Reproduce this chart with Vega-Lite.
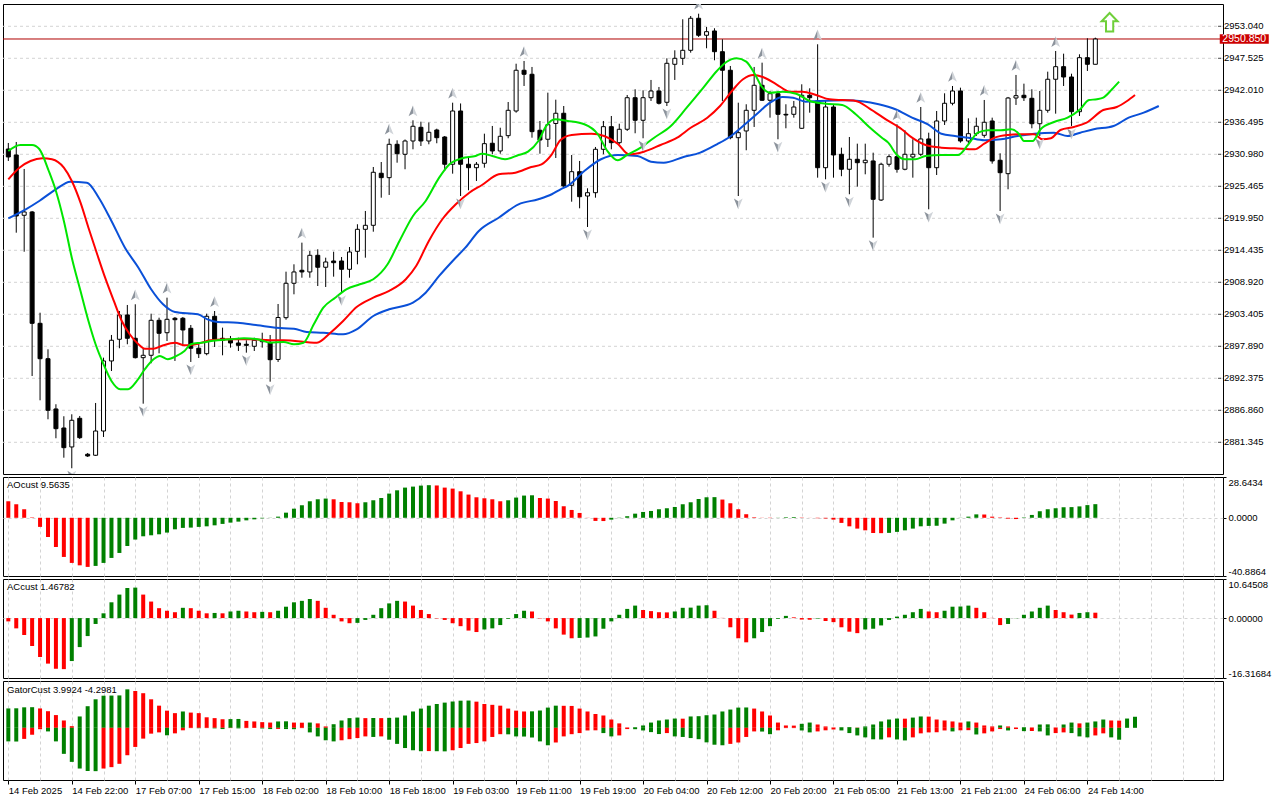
{
  "$schema": "https://vega.github.io/schema/vega-lite/v6.json",
  "background": "#ffffff",
  "padding": {"left": 2, "top": 3, "right": 0, "bottom": 0},
  "spacing": 3,
  "bounds": "flush",
  "resolve": {"scale": {"x": "independent", "y": "independent"}},
  "config": {
    "view": {"stroke": "#000000", "strokeWidth": 1},
    "font": "Liberation Sans",
    "axis": {"labelFont": "Liberation Sans", "labelFontSize": 9.5, "labelColor": "#000000", "tickColor": "#000000", "tickWidth": 1},
    "title": {"font": "Liberation Sans", "fontSize": 9.5, "fontWeight": "normal", "color": "#000000"}
  },
  "datasets": {
    "candles": [
      {"i":0,"o":2931.89,"h":2932.93,"l":2929.83,"c":2930.52},
      {"i":1,"o":2930.86,"h":2933.10,"l":2917.47,"c":2920.35},
      {"i":2,"o":2920.47,"h":2928.45,"l":2914.19,"c":2921.04},
      {"i":3,"o":2921.04,"h":2921.21,"l":2892.77,"c":2901.85},
      {"i":4,"o":2901.85,"h":2903.68,"l":2888.58,"c":2895.75},
      {"i":5,"o":2895.75,"h":2897.37,"l":2885.31,"c":2886.86},
      {"i":6,"o":2887.09,"h":2887.90,"l":2882.04,"c":2883.69},
      {"i":7,"o":2883.81,"h":2885.83,"l":2878.69,"c":2880.42},
      {"i":8,"o":2880.54,"h":2886.17,"l":2876.87,"c":2885.14},
      {"i":9,"o":2885.48,"h":2885.88,"l":2881.92,"c":2882.14},
      {"i":10,"o":2879.28,"h":2879.50,"l":2878.81,"c":2878.99},
      {"i":11,"o":2879.11,"h":2888.12,"l":2878.99,"c":2883.29},
      {"i":12,"o":2883.29,"h":2895.93,"l":2882.26,"c":2895.36},
      {"i":13,"o":2895.36,"h":2899.84,"l":2893.63,"c":2898.93},
      {"i":14,"o":2899.10,"h":2903.97,"l":2897.55,"c":2903.29},
      {"i":15,"o":2903.29,"h":2905.01,"l":2898.24,"c":2899.27},
      {"i":16,"o":2899.27,"h":2905.13,"l":2895.79,"c":2895.93},
      {"i":17,"o":2895.93,"h":2897.55,"l":2888.00,"c":2896.34},
      {"i":18,"o":2896.34,"h":2903.51,"l":2894.96,"c":2902.37},
      {"i":19,"o":2902.37,"h":2902.82,"l":2896.68,"c":2900.13},
      {"i":20,"o":2900.23,"h":2906.27,"l":2898.80,"c":2902.54},
      {"i":21,"o":2902.72,"h":2902.94,"l":2895.36,"c":2902.47},
      {"i":22,"o":2902.72,"h":2902.94,"l":2898.24,"c":2900.70},
      {"i":23,"o":2900.99,"h":2901.56,"l":2895.19,"c":2897.55},
      {"i":24,"o":2897.55,"h":2898.24,"l":2895.87,"c":2896.62},
      {"i":25,"o":2896.62,"h":2903.51,"l":2896.34,"c":2903.06},
      {"i":26,"o":2903.06,"h":2903.97,"l":2897.77,"c":2899.10},
      {"i":27,"o":2899.27,"h":2901.10,"l":2896.34,"c":2898.93},
      {"i":28,"o":2898.93,"h":2899.67,"l":2897.65,"c":2898.46},
      {"i":29,"o":2898.46,"h":2899.37,"l":2897.08,"c":2898.06},
      {"i":30,"o":2898.24,"h":2898.93,"l":2896.79,"c":2898.06},
      {"i":31,"o":2897.89,"h":2899.37,"l":2897.08,"c":2898.93},
      {"i":32,"o":2898.68,"h":2900.23,"l":2897.65,"c":2898.93},
      {"i":33,"o":2898.58,"h":2899.84,"l":2891.79,"c":2895.58},
      {"i":34,"o":2895.62,"h":2905.18,"l":2895.19,"c":2902.85},
      {"i":35,"o":2902.82,"h":2910.75,"l":2902.47,"c":2908.75},
      {"i":36,"o":2908.75,"h":2912.02,"l":2906.85,"c":2910.70},
      {"i":37,"o":2910.99,"h":2915.75,"l":2909.71,"c":2910.70},
      {"i":38,"o":2910.70,"h":2914.31,"l":2909.71,"c":2913.57},
      {"i":39,"o":2913.57,"h":2914.61,"l":2908.28,"c":2911.51},
      {"i":40,"o":2911.51,"h":2913.16,"l":2908.11,"c":2912.42},
      {"i":41,"o":2912.59,"h":2914.19,"l":2909.89,"c":2912.30},
      {"i":42,"o":2912.59,"h":2913.28,"l":2907.13,"c":2911.16},
      {"i":43,"o":2911.16,"h":2915.00,"l":2909.71,"c":2914.14},
      {"i":44,"o":2914.26,"h":2918.92,"l":2912.02,"c":2918.05},
      {"i":45,"o":2918.05,"h":2921.21,"l":2913.16,"c":2918.74},
      {"i":46,"o":2918.74,"h":2928.79,"l":2917.64,"c":2927.88},
      {"i":47,"o":2927.71,"h":2929.65,"l":2923.50,"c":2926.95},
      {"i":48,"o":2926.95,"h":2933.67,"l":2923.97,"c":2932.70},
      {"i":49,"o":2932.70,"h":2933.39,"l":2929.53,"c":2931.08},
      {"i":50,"o":2930.98,"h":2933.53,"l":2928.40,"c":2933.27},
      {"i":51,"o":2933.27,"h":2936.84,"l":2931.84,"c":2935.81},
      {"i":52,"o":2935.63,"h":2936.60,"l":2932.41,"c":2933.27},
      {"i":53,"o":2933.27,"h":2936.46,"l":2932.70,"c":2934.77},
      {"i":54,"o":2935.17,"h":2935.39,"l":2932.88,"c":2933.84},
      {"i":55,"o":2933.96,"h":2934.13,"l":2928.10,"c":2929.26},
      {"i":56,"o":2929.26,"h":2939.87,"l":2927.64,"c":2938.44},
      {"i":57,"o":2938.44,"h":2939.74,"l":2923.79,"c":2929.26},
      {"i":58,"o":2929.26,"h":2930.39,"l":2924.78,"c":2928.67},
      {"i":59,"o":2928.67,"h":2929.65,"l":2926.38,"c":2929.26},
      {"i":60,"o":2929.43,"h":2934.53,"l":2928.67,"c":2932.81},
      {"i":61,"o":2932.88,"h":2935.86,"l":2930.98,"c":2931.55},
      {"i":62,"o":2931.55,"h":2935.56,"l":2931.08,"c":2934.08},
      {"i":63,"o":2934.19,"h":2939.99,"l":2933.74,"c":2938.56},
      {"i":64,"o":2938.44,"h":2946.59,"l":2938.15,"c":2945.46},
      {"i":65,"o":2945.46,"h":2947.06,"l":2942.75,"c":2944.77},
      {"i":66,"o":2944.77,"h":2946.03,"l":2933.84,"c":2934.88},
      {"i":67,"o":2935.12,"h":2936.72,"l":2931.08,"c":2933.44},
      {"i":68,"o":2933.57,"h":2941.60,"l":2932.24,"c":2936.08},
      {"i":69,"o":2936.29,"h":2940.39,"l":2930.34,"c":2938.05},
      {"i":70,"o":2938.05,"h":2939.30,"l":2925.34,"c":2925.52},
      {"i":71,"o":2925.64,"h":2930.86,"l":2922.81,"c":2927.98},
      {"i":72,"o":2927.98,"h":2929.83,"l":2921.67,"c":2923.67},
      {"i":73,"o":2923.79,"h":2925.12,"l":2918.45,"c":2924.36},
      {"i":74,"o":2924.36,"h":2932.24,"l":2923.50,"c":2931.84},
      {"i":75,"o":2931.84,"h":2936.72,"l":2930.98,"c":2935.74},
      {"i":76,"o":2935.74,"h":2937.58,"l":2931.84,"c":2932.98},
      {"i":77,"o":2932.98,"h":2936.25,"l":2932.70,"c":2935.29},
      {"i":78,"o":2935.29,"h":2941.20,"l":2935.00,"c":2940.73},
      {"i":79,"o":2940.73,"h":2942.18,"l":2934.60,"c":2936.84},
      {"i":80,"o":2936.84,"h":2942.01,"l":2933.74,"c":2940.73},
      {"i":81,"o":2940.73,"h":2943.79,"l":2940.17,"c":2941.89},
      {"i":82,"o":2941.89,"h":2942.58,"l":2939.56,"c":2939.77},
      {"i":83,"o":2939.94,"h":2947.52,"l":2939.30,"c":2946.66},
      {"i":84,"o":2946.49,"h":2948.90,"l":2943.79,"c":2947.52},
      {"i":85,"o":2947.52,"h":2954.25,"l":2946.37,"c":2948.90},
      {"i":86,"o":2948.90,"h":2954.81,"l":2948.49,"c":2954.42},
      {"i":87,"o":2954.42,"h":2955.21,"l":2951.20,"c":2951.49},
      {"i":88,"o":2951.49,"h":2952.92,"l":2949.25,"c":2952.11},
      {"i":89,"o":2952.23,"h":2952.70,"l":2947.18,"c":2948.66},
      {"i":90,"o":2948.66,"h":2950.80,"l":2940.17,"c":2945.46},
      {"i":91,"o":2945.46,"h":2946.20,"l":2933.57,"c":2933.84},
      {"i":92,"o":2933.84,"h":2939.87,"l":2923.79,"c":2934.70},
      {"i":93,"o":2935.00,"h":2939.60,"l":2931.67,"c":2938.56},
      {"i":94,"o":2938.56,"h":2946.03,"l":2935.69,"c":2942.87},
      {"i":95,"o":2942.87,"h":2946.77,"l":2940.17,"c":2940.29},
      {"i":96,"o":2940.29,"h":2941.89,"l":2937.29,"c":2941.42},
      {"i":97,"o":2941.42,"h":2941.89,"l":2933.57,"c":2937.87},
      {"i":98,"o":2937.87,"h":2939.60,"l":2935.46,"c":2937.75},
      {"i":99,"o":2937.87,"h":2940.17,"l":2937.29,"c":2939.13},
      {"i":100,"o":2935.46,"h":2943.04,"l":2935.34,"c":2941.15},
      {"i":101,"o":2941.15,"h":2942.35,"l":2938.15,"c":2940.73},
      {"i":102,"o":2940.17,"h":2949.94,"l":2926.95,"c":2928.67},
      {"i":103,"o":2928.67,"h":2940.17,"l":2926.67,"c":2939.13},
      {"i":104,"o":2939.13,"h":2939.60,"l":2926.95,"c":2930.86},
      {"i":105,"o":2930.98,"h":2932.12,"l":2927.20,"c":2928.40},
      {"i":106,"o":2928.40,"h":2933.96,"l":2924.09,"c":2930.12},
      {"i":107,"o":2930.12,"h":2932.81,"l":2925.40,"c":2929.53},
      {"i":108,"o":2929.53,"h":2932.81,"l":2927.53,"c":2929.95},
      {"i":109,"o":2929.83,"h":2931.26,"l":2916.61,"c":2923.22},
      {"i":110,"o":2923.10,"h":2929.53,"l":2922.93,"c":2929.26},
      {"i":111,"o":2929.26,"h":2930.98,"l":2928.84,"c":2930.57},
      {"i":112,"o":2930.57,"h":2936.15,"l":2927.81,"c":2928.40},
      {"i":113,"o":2928.40,"h":2935.12,"l":2928.22,"c":2930.98},
      {"i":114,"o":2930.51,"h":2933.57,"l":2926.95,"c":2930.98},
      {"i":115,"o":2930.98,"h":2939.13,"l":2930.69,"c":2933.62},
      {"i":116,"o":2933.62,"h":2934.70,"l":2921.50,"c":2928.67},
      {"i":117,"o":2928.67,"h":2938.44,"l":2927.41,"c":2936.72},
      {"i":118,"o":2936.72,"h":2941.49,"l":2936.03,"c":2939.77},
      {"i":119,"o":2939.77,"h":2942.75,"l":2939.42,"c":2941.89},
      {"i":120,"o":2941.89,"h":2942.46,"l":2932.98,"c":2933.27},
      {"i":121,"o":2933.27,"h":2937.18,"l":2932.81,"c":2934.53},
      {"i":122,"o":2934.53,"h":2937.29,"l":2934.13,"c":2935.81},
      {"i":123,"o":2934.25,"h":2940.34,"l":2933.84,"c":2936.50},
      {"i":124,"o":2936.72,"h":2937.29,"l":2929.36,"c":2929.83},
      {"i":125,"o":2929.95,"h":2931.15,"l":2921.21,"c":2927.81},
      {"i":126,"o":2927.64,"h":2940.86,"l":2924.95,"c":2940.68},
      {"i":127,"o":2940.68,"h":2944.65,"l":2939.48,"c":2941.08},
      {"i":128,"o":2941.15,"h":2943.15,"l":2940.17,"c":2940.73},
      {"i":129,"o":2940.63,"h":2942.18,"l":2935.46,"c":2936.25},
      {"i":130,"o":2936.25,"h":2941.89,"l":2934.13,"c":2938.56},
      {"i":131,"o":2938.56,"h":2945.22,"l":2938.15,"c":2943.91},
      {"i":132,"o":2943.91,"h":2948.78,"l":2937.98,"c":2946.08},
      {"i":133,"o":2946.08,"h":2948.32,"l":2942.75,"c":2944.30},
      {"i":134,"o":2944.30,"h":2944.87,"l":2935.86,"c":2938.32},
      {"i":135,"o":2938.32,"h":2948.21,"l":2937.58,"c":2947.63},
      {"i":136,"o":2947.63,"h":2950.97,"l":2945.34,"c":2946.49},
      {"i":137,"o":2946.49,"h":2951.08,"l":2946.49,"c":2950.85}
    ],
    "lips": [
      {"i":0,"v":2931.55},{"i":1.5,"v":2932.58},{"i":3,"v":2932.58},{"i":3.9,"v":2931.89},{"i":5.1,"v":2928.10},{"i":6,"v":2924.66},{"i":7,"v":2919.49},{"i":8,"v":2913.16},{"i":9.1,"v":2907.42},{"i":10.1,"v":2902.25},{"i":11,"v":2898.24},{"i":12,"v":2894.79},{"i":13,"v":2891.91},{"i":14.1,"v":2890.48},{"i":15.1,"v":2890.48},{"i":16.2,"v":2891.91},{"i":17.2,"v":2893.93},{"i":18.3,"v":2895.65},{"i":19.1,"v":2896.22},{"i":20.1,"v":2895.65},{"i":21.2,"v":2896.22},{"i":22.2,"v":2897.08},{"i":23,"v":2898.24},{"i":24.3,"v":2898.51},{"i":26.4,"v":2898.93},{"i":28,"v":2899.10},{"i":29.7,"v":2899.27},{"i":31.4,"v":2899.10},{"i":33,"v":2898.51},{"i":34.7,"v":2898.63},{"i":36,"v":2898.24},{"i":37.2,"v":2898.51},{"i":38.5,"v":2901.68},{"i":39.7,"v":2904.54},{"i":41.2,"v":2906.27},{"i":42.6,"v":2907.71},{"i":44.3,"v":2908.58},{"i":46,"v":2909.44},{"i":47.8,"v":2912.02},{"i":49.3,"v":2916.04},{"i":51,"v":2920.35},{"i":52.6,"v":2922.93},{"i":54.3,"v":2926.95},{"i":55.6,"v":2929.26},{"i":57.2,"v":2930.29},{"i":58.9,"v":2930.69},{"i":59.7,"v":2931.08},{"i":61,"v":2930.69},{"i":62.6,"v":2930.12},{"i":64.3,"v":2930.86},{"i":65.5,"v":2931.43},{"i":66.8,"v":2933.27},{"i":67.8,"v":2935.86},{"i":68.9,"v":2937.01},{"i":70.5,"v":2936.72},{"i":72.6,"v":2936.15},{"i":74.3,"v":2934.43},{"i":75.5,"v":2931.55},{"i":76.8,"v":2929.95},{"i":78,"v":2930.86},{"i":79.7,"v":2932.12},{"i":81.4,"v":2933.84},{"i":83.5,"v":2935.86},{"i":85.5,"v":2939.01},{"i":87.6,"v":2942.46},{"i":89.3,"v":2945.34},{"i":90.5,"v":2946.89},{"i":91.8,"v":2947.52},{"i":93,"v":2946.94},{"i":94.1,"v":2944.77},{"i":94.9,"v":2942.75},{"i":96,"v":2941.60},{"i":97.6,"v":2941.77},{"i":99.3,"v":2941.42},{"i":101,"v":2940.17},{"i":103,"v":2939.70},{"i":105.1,"v":2939.48},{"i":106.8,"v":2937.87},{"i":108.5,"v":2935.69},{"i":110.1,"v":2933.84},{"i":110.9,"v":2932.98},{"i":112,"v":2930.86},{"i":113,"v":2930.12},{"i":114.3,"v":2930.12},{"i":115.6,"v":2930.69},{"i":117.6,"v":2930.86},{"i":119.7,"v":2930.86},{"i":121,"v":2932.70},{"i":122.2,"v":2934.70},{"i":123.5,"v":2935.12},{"i":125.1,"v":2935.12},{"i":126.4,"v":2935.29},{"i":127.4,"v":2934.43},{"i":128,"v":2933.27},{"i":129.1,"v":2933.27},{"i":130.1,"v":2935.29},{"i":131.8,"v":2936.55},{"i":133.5,"v":2937.29},{"i":135.1,"v":2938.74},{"i":136.2,"v":2940.34},{"i":137.2,"v":2940.46},{"i":138,"v":2940.73},{"i":139.1,"v":2942.18},{"i":140,"v":2943.49}
    ],
    "teeth": [
      {"i":0,"v":2926.67},{"i":1.4,"v":2928.67},{"i":2.8,"v":2929.83},{"i":4.3,"v":2930.29},{"i":5.5,"v":2930.12},{"i":7,"v":2928.67},{"i":8,"v":2926.38},{"i":9.1,"v":2922.64},{"i":10.1,"v":2918.33},{"i":11.2,"v":2913.75},{"i":12.2,"v":2909.71},{"i":13.3,"v":2905.70},{"i":14.3,"v":2902.25},{"i":15.3,"v":2899.96},{"i":16.4,"v":2898.24},{"i":17.2,"v":2897.48},{"i":18.3,"v":2897.48},{"i":19.3,"v":2897.94},{"i":21,"v":2898.51},{"i":22.2,"v":2898.06},{"i":23.9,"v":2898.34},{"i":25.5,"v":2898.93},{"i":28,"v":2899.10},{"i":30.5,"v":2899.10},{"i":33,"v":2898.93},{"i":34.7,"v":2898.93},{"i":38.9,"v":2898.51},{"i":40.6,"v":2900.23},{"i":42.2,"v":2902.25},{"i":43.9,"v":2904.66},{"i":46,"v":2906.27},{"i":48,"v":2907.42},{"i":50.1,"v":2909.44},{"i":51.4,"v":2911.73},{"i":53,"v":2916.04},{"i":54.7,"v":2919.78},{"i":56.4,"v":2922.36},{"i":58.1,"v":2924.36},{"i":59.7,"v":2925.69},{"i":61.8,"v":2927.53},{"i":63.9,"v":2927.81},{"i":65.9,"v":2928.79},{"i":67.2,"v":2929.26},{"i":68.5,"v":2930.98},{"i":69.6,"v":2933.44},{"i":71,"v":2934.31},{"i":73.5,"v":2934.53},{"i":75.1,"v":2934.13},{"i":76.8,"v":2932.81},{"i":78.2,"v":2930.98},{"i":80.1,"v":2931.43},{"i":82.2,"v":2932.58},{"i":84.3,"v":2933.84},{"i":86,"v":2935.56},{"i":88.1,"v":2937.29},{"i":89.7,"v":2939.30},{"i":91.2,"v":2941.89},{"i":92.6,"v":2943.91},{"i":93.9,"v":2944.65},{"i":95.1,"v":2944.30},{"i":96.8,"v":2943.04},{"i":98.5,"v":2941.77},{"i":100.1,"v":2941.77},{"i":101.8,"v":2941.20},{"i":103.5,"v":2940.46},{"i":106.8,"v":2940.17},{"i":108.5,"v":2938.91},{"i":110.6,"v":2937.01},{"i":112.6,"v":2935.29},{"i":113.9,"v":2933.84},{"i":115.6,"v":2932.58},{"i":117.6,"v":2932.12},{"i":119.3,"v":2932.01},{"i":121.8,"v":2931.84},{"i":123,"v":2932.81},{"i":124.3,"v":2933.84},{"i":126,"v":2934.31},{"i":127.6,"v":2934.43},{"i":129.3,"v":2934.43},{"i":130.3,"v":2933.57},{"i":131.4,"v":2933.74},{"i":132.6,"v":2935.17},{"i":134.3,"v":2935.69},{"i":135.9,"v":2936.43},{"i":138,"v":2938.61},{"i":139.7,"v":2939.13},{"i":141,"v":2940.17},{"i":142,"v":2941.20}
    ],
    "jaw": [
      {"i":0,"v":2919.95},{"i":2.2,"v":2921.50},{"i":3.9,"v":2922.93},{"i":6,"v":2924.95},{"i":7.8,"v":2926.26},{"i":9.9,"v":2926.09},{"i":11.4,"v":2923.50},{"i":13,"v":2919.49},{"i":14.7,"v":2914.88},{"i":16.4,"v":2911.44},{"i":18,"v":2907.71},{"i":19.5,"v":2905.13},{"i":21,"v":2903.80},{"i":23.9,"v":2903.40},{"i":25.1,"v":2902.54},{"i":26.4,"v":2902.08},{"i":28.9,"v":2901.96},{"i":31.4,"v":2901.51},{"i":34.7,"v":2900.99},{"i":36,"v":2900.92},{"i":37.6,"v":2900.36},{"i":39.7,"v":2900.23},{"i":42.2,"v":2899.96},{"i":43.9,"v":2900.82},{"i":46,"v":2903.11},{"i":48,"v":2904.27},{"i":51,"v":2905.41},{"i":52.6,"v":2907.13},{"i":54.3,"v":2910.01},{"i":56,"v":2912.59},{"i":57.6,"v":2914.88},{"i":59.3,"v":2917.76},{"i":61.8,"v":2920.05},{"i":64.3,"v":2922.36},{"i":66.8,"v":2923.23},{"i":68.5,"v":2924.09},{"i":69.6,"v":2924.95},{"i":70.5,"v":2925.52},{"i":72.6,"v":2928.10},{"i":74.7,"v":2930.12},{"i":76.8,"v":2930.86},{"i":79.3,"v":2930.69},{"i":81,"v":2929.71},{"i":82.6,"v":2929.53},{"i":85.1,"v":2930.51},{"i":87.2,"v":2931.26},{"i":89.3,"v":2932.70},{"i":90.9,"v":2933.96},{"i":92.6,"v":2935.86},{"i":94.3,"v":2937.87},{"i":96,"v":2939.87},{"i":97.6,"v":2940.86},{"i":98.9,"v":2940.73},{"i":100.5,"v":2940.05},{"i":102.2,"v":2940.17},{"i":105.5,"v":2940.29},{"i":109.7,"v":2939.60},{"i":111.8,"v":2938.74},{"i":113.9,"v":2937.29},{"i":115.9,"v":2936.15},{"i":117.6,"v":2934.53},{"i":119.3,"v":2934.13},{"i":121,"v":2933.84},{"i":123,"v":2933.39},{"i":125.1,"v":2933.57},{"i":127.2,"v":2934.13},{"i":129.3,"v":2934.53},{"i":131.8,"v":2934.70},{"i":133.5,"v":2934.13},{"i":135.1,"v":2934.70},{"i":136.8,"v":2935.29},{"i":139.3,"v":2935.86},{"i":141.2,"v":2937.29},{"i":143.1,"v":2938.15},{"i":145,"v":2939.30}
    ],
    "fractals": [
      {"i":16,"p":2905.13,"d":"u"},{"i":20,"p":2906.27,"d":"u"},{"i":26,"p":2903.97,"d":"u"},{"i":37,"p":2915.75,"d":"u"},{"i":48,"p":2933.67,"d":"u"},{"i":51,"p":2936.84,"d":"u"},{"i":56,"p":2939.87,"d":"u"},{"i":65,"p":2947.06,"d":"u"},{"i":87,"p":2955.21,"d":"u"},{"i":95,"p":2946.77,"d":"u"},{"i":102,"p":2949.94,"d":"u"},{"i":112,"p":2936.15,"d":"u"},{"i":115,"p":2939.13,"d":"u"},{"i":119,"p":2942.75,"d":"u"},{"i":123,"p":2940.34,"d":"u"},{"i":127,"p":2944.65,"d":"u"},{"i":132,"p":2948.78,"d":"u"},
      {"i":8,"p":2876.87,"d":"d"},{"i":17,"p":2888.00,"d":"d"},{"i":23,"p":2895.19,"d":"d"},{"i":30,"p":2896.79,"d":"d"},{"i":33,"p":2891.79,"d":"d"},{"i":42,"p":2907.13,"d":"d"},{"i":57,"p":2923.79,"d":"d"},{"i":73,"p":2918.45,"d":"d"},{"i":80,"p":2933.74,"d":"d"},{"i":83,"p":2939.30,"d":"d"},{"i":92,"p":2923.79,"d":"d"},{"i":97,"p":2933.57,"d":"d"},{"i":103,"p":2926.67,"d":"d"},{"i":106,"p":2924.09,"d":"d"},{"i":109,"p":2916.61,"d":"d"},{"i":116,"p":2921.50,"d":"d"},{"i":125,"p":2921.21,"d":"d"},{"i":130,"p":2934.13,"d":"d"},{"i":134,"p":2935.86,"d":"d"}
    ],
    "signal": [{"i":138.8,"p":2953.69}],
    "last": [{"p":2950.85}],
    "ticks": [{"p":2881.345},{"p":2886.86},{"p":2892.375},{"p":2897.89},{"p":2903.405},{"p":2908.92},{"p":2914.435},{"p":2919.95},{"p":2925.465},{"p":2930.98},{"p":2936.495},{"p":2942.01},{"p":2947.525},{"p":2953.04}],
    "ao": [
      {"i":0,"v":11.6,"c":"r"},{"i":1,"v":9.5,"c":"r"},{"i":2,"v":6.0,"c":"r"},{"i":3,"v":0.3,"c":"r"},{"i":4,"v":-6.4,"c":"r"},{"i":5,"v":-13.5,"c":"r"},{"i":6,"v":-20.5,"c":"r"},{"i":7,"v":-27.5,"c":"r"},{"i":8,"v":-31.7,"c":"r"},{"i":9,"v":-33.4,"c":"r"},
      {"i":10,"v":-34.5,"c":"r"},{"i":11,"v":-33.8,"c":"g"},{"i":12,"v":-31.7,"c":"g"},{"i":13,"v":-28.2,"c":"g"},{"i":14,"v":-24.7,"c":"g"},{"i":15,"v":-19.8,"c":"g"},{"i":16,"v":-15.3,"c":"g"},{"i":17,"v":-13.0,"c":"g"},{"i":18,"v":-12.3,"c":"g"},{"i":19,"v":-11.6,"c":"g"},
      {"i":20,"v":-10.4,"c":"g"},{"i":21,"v":-8.1,"c":"g"},{"i":22,"v":-7.1,"c":"g"},{"i":23,"v":-6.9,"c":"g"},{"i":24,"v":-6.4,"c":"g"},{"i":25,"v":-6.0,"c":"g"},{"i":26,"v":-5.3,"c":"g"},{"i":27,"v":-4.3,"c":"g"},{"i":28,"v":-3.4,"c":"g"},{"i":29,"v":-2.7,"c":"g"},
      {"i":30,"v":-1.8,"c":"g"},{"i":31,"v":-1.1,"c":"g"},{"i":32,"v":-0.4,"c":"g"},{"i":33,"v":-0.1,"c":"g"},{"i":34,"v":0.8,"c":"g"},{"i":35,"v":3.6,"c":"g"},{"i":36,"v":6.4,"c":"g"},{"i":37,"v":8.8,"c":"g"},{"i":38,"v":11.6,"c":"g"},{"i":39,"v":13.0,"c":"g"},
      {"i":40,"v":13.5,"c":"g"},{"i":41,"v":13.0,"c":"r"},{"i":42,"v":11.1,"c":"r"},{"i":43,"v":10.9,"c":"r"},{"i":44,"v":10.2,"c":"r"},{"i":45,"v":10.9,"c":"g"},{"i":46,"v":12.3,"c":"g"},{"i":47,"v":13.9,"c":"g"},{"i":48,"v":17.0,"c":"g"},{"i":49,"v":19.3,"c":"g"},
      {"i":50,"v":21.2,"c":"g"},{"i":51,"v":21.9,"c":"g"},{"i":52,"v":22.6,"c":"g"},{"i":53,"v":22.9,"c":"g"},{"i":54,"v":22.7,"c":"r"},{"i":55,"v":21.2,"c":"r"},{"i":56,"v":20.5,"c":"r"},{"i":57,"v":18.6,"c":"r"},{"i":58,"v":16.3,"c":"r"},{"i":59,"v":14.4,"c":"r"},
      {"i":60,"v":13.7,"c":"r"},{"i":61,"v":13.0,"c":"r"},{"i":62,"v":11.6,"c":"r"},{"i":63,"v":12.3,"c":"g"},{"i":64,"v":14.2,"c":"g"},{"i":65,"v":15.6,"c":"g"},{"i":66,"v":15.8,"c":"g"},{"i":67,"v":13.9,"c":"r"},{"i":68,"v":13.5,"c":"r"},{"i":69,"v":11.8,"c":"r"},
      {"i":70,"v":8.1,"c":"r"},{"i":71,"v":5.5,"c":"r"},{"i":72,"v":3.4,"c":"r"},{"i":73,"v":0.1,"c":"r"},{"i":74,"v":-2.2,"c":"r"},{"i":75,"v":-2.3,"c":"r"},{"i":76,"v":-1.3,"c":"g"},{"i":77,"v":-0.2,"c":"g"},{"i":78,"v":1.1,"c":"g"},{"i":79,"v":2.9,"c":"g"},
      {"i":80,"v":4.1,"c":"g"},{"i":81,"v":4.8,"c":"g"},{"i":82,"v":6.0,"c":"g"},{"i":83,"v":6.7,"c":"g"},{"i":84,"v":7.6,"c":"g"},{"i":85,"v":9.5,"c":"g"},{"i":86,"v":10.9,"c":"g"},{"i":87,"v":13.2,"c":"g"},{"i":88,"v":14.4,"c":"g"},{"i":89,"v":14.5,"c":"g"},
      {"i":90,"v":12.8,"c":"r"},{"i":91,"v":10.2,"c":"r"},{"i":92,"v":6.0,"c":"r"},{"i":93,"v":2.5,"c":"r"},{"i":94,"v":0.4,"c":"r"},{"i":95,"v":0.1,"c":"r"},{"i":96,"v":-0.2,"c":"r"},{"i":97,"v":0.1,"c":"g"},{"i":98,"v":0.4,"c":"g"},{"i":99,"v":0.5,"c":"g"},
      {"i":100,"v":0.2,"c":"r"},{"i":101,"v":-0.05,"c":"r"},{"i":102,"v":-0.3,"c":"r"},{"i":103,"v":-0.5,"c":"r"},{"i":104,"v":-1.3,"c":"r"},{"i":105,"v":-3.6,"c":"r"},{"i":106,"v":-6.0,"c":"r"},{"i":107,"v":-7.6,"c":"r"},{"i":108,"v":-8.8,"c":"r"},{"i":109,"v":-10.7,"c":"r"},
      {"i":110,"v":-10.8,"c":"r"},{"i":111,"v":-10.6,"c":"g"},{"i":112,"v":-9.9,"c":"g"},{"i":113,"v":-8.8,"c":"g"},{"i":114,"v":-7.6,"c":"g"},{"i":115,"v":-6.0,"c":"g"},{"i":116,"v":-5.7,"c":"g"},{"i":117,"v":-5.6,"c":"g"},{"i":118,"v":-4.1,"c":"g"},{"i":119,"v":-1.8,"c":"g"},
      {"i":120,"v":-0.1,"c":"g"},{"i":121,"v":0.8,"c":"g"},{"i":122,"v":2.4,"c":"g"},{"i":123,"v":2.3,"c":"r"},{"i":124,"v":0.8,"c":"r"},{"i":125,"v":0.3,"c":"r"},{"i":126,"v":-0.6,"c":"r"},{"i":127,"v":-0.9,"c":"r"},{"i":128,"v":0.3,"c":"g"},{"i":129,"v":2.0,"c":"g"},
      {"i":130,"v":4.6,"c":"g"},{"i":131,"v":6.0,"c":"g"},{"i":132,"v":6.7,"c":"g"},{"i":133,"v":7.4,"c":"g"},{"i":134,"v":7.5,"c":"g"},{"i":135,"v":8.0,"c":"g"},{"i":136,"v":8.9,"c":"g"},{"i":137,"v":9.5635,"c":"g"}
    ],
    "ac": [
      {"i":0,"v":-0.9,"c":"r"},{"i":1,"v":-2.8,"c":"r"},{"i":2,"v":-4.6,"c":"r"},{"i":3,"v":-7.6,"c":"r"},{"i":4,"v":-10.6,"c":"r"},{"i":5,"v":-12.4,"c":"r"},{"i":6,"v":-13.8,"c":"r"},{"i":7,"v":-13.9,"c":"r"},{"i":8,"v":-11.7,"c":"g"},{"i":9,"v":-7.9,"c":"g"},
      {"i":10,"v":-4.9,"c":"g"},{"i":11,"v":-1.6,"c":"g"},{"i":12,"v":1.3,"c":"g"},{"i":13,"v":4.3,"c":"g"},{"i":14,"v":6.4,"c":"g"},{"i":15,"v":8.2,"c":"g"},{"i":16,"v":8.3,"c":"g"},{"i":17,"v":6.4,"c":"r"},{"i":18,"v":4.5,"c":"r"},{"i":19,"v":2.7,"c":"r"},
      {"i":20,"v":2.0,"c":"r"},{"i":21,"v":1.6,"c":"r"},{"i":22,"v":2.8,"c":"g"},{"i":23,"v":2.7,"c":"r"},{"i":24,"v":2.0,"c":"r"},{"i":25,"v":1.3,"c":"r"},{"i":26,"v":1.4,"c":"g"},{"i":27,"v":1.3,"c":"r"},{"i":28,"v":1.8,"c":"g"},{"i":29,"v":2.0,"c":"g"},
      {"i":30,"v":1.8,"c":"r"},{"i":31,"v":1.6,"c":"r"},{"i":32,"v":1.7,"c":"g"},{"i":33,"v":1.6,"c":"r"},{"i":34,"v":2.0,"c":"g"},{"i":35,"v":3.1,"c":"g"},{"i":36,"v":4.3,"c":"g"},{"i":37,"v":4.7,"c":"g"},{"i":38,"v":5.2,"c":"g"},{"i":39,"v":4.7,"c":"r"},
      {"i":40,"v":2.8,"c":"r"},{"i":41,"v":0.9,"c":"r"},{"i":42,"v":-0.9,"c":"r"},{"i":43,"v":-1.4,"c":"r"},{"i":44,"v":-1.3,"c":"g"},{"i":45,"v":-0.5,"c":"g"},{"i":46,"v":0.9,"c":"g"},{"i":47,"v":2.7,"c":"g"},{"i":48,"v":4.0,"c":"g"},{"i":49,"v":4.7,"c":"g"},
      {"i":50,"v":4.5,"c":"r"},{"i":51,"v":3.4,"c":"r"},{"i":52,"v":2.2,"c":"r"},{"i":53,"v":1.1,"c":"r"},{"i":54,"v":-0.1,"c":"r"},{"i":55,"v":-0.5,"c":"r"},{"i":56,"v":-1.4,"c":"r"},{"i":57,"v":-2.2,"c":"r"},{"i":58,"v":-3.4,"c":"r"},{"i":59,"v":-3.8,"c":"r"},
      {"i":60,"v":-3.1,"c":"g"},{"i":61,"v":-2.8,"c":"g"},{"i":62,"v":-1.9,"c":"g"},{"i":63,"v":-0.2,"c":"g"},{"i":64,"v":1.1,"c":"g"},{"i":65,"v":2.0,"c":"g"},{"i":66,"v":1.8,"c":"r"},{"i":67,"v":-0.1,"c":"r"},{"i":68,"v":-0.9,"c":"r"},{"i":69,"v":-2.8,"c":"r"},
      {"i":70,"v":-4.5,"c":"r"},{"i":71,"v":-5.5,"c":"r"},{"i":72,"v":-5.4,"c":"g"},{"i":73,"v":-5.3,"c":"g"},{"i":74,"v":-5.0,"c":"g"},{"i":75,"v":-2.9,"c":"g"},{"i":76,"v":-0.9,"c":"g"},{"i":77,"v":0.9,"c":"g"},{"i":78,"v":2.5,"c":"g"},{"i":79,"v":3.4,"c":"g"},
      {"i":80,"v":2.2,"c":"r"},{"i":81,"v":1.9,"c":"r"},{"i":82,"v":1.6,"c":"r"},{"i":83,"v":1.55,"c":"r"},{"i":84,"v":1.8,"c":"g"},{"i":85,"v":2.8,"c":"g"},{"i":86,"v":2.85,"c":"g"},{"i":87,"v":3.4,"c":"g"},{"i":88,"v":3.5,"c":"g"},{"i":89,"v":2.0,"c":"r"},
      {"i":90,"v":0.05,"c":"r"},{"i":91,"v":-2.5,"c":"r"},{"i":92,"v":-5.5,"c":"r"},{"i":93,"v":-6.6,"c":"r"},{"i":94,"v":-5.5,"c":"g"},{"i":95,"v":-3.8,"c":"g"},{"i":96,"v":-2.2,"c":"g"},{"i":97,"v":-0.2,"c":"g"},{"i":98,"v":0.6,"c":"g"},{"i":99,"v":0.2,"c":"r"},
      {"i":100,"v":-0.4,"c":"r"},{"i":101,"v":-0.45,"c":"r"},{"i":102,"v":-0.15,"c":"g"},{"i":103,"v":-0.8,"c":"r"},{"i":104,"v":-1.1,"c":"r"},{"i":105,"v":-2.5,"c":"r"},{"i":106,"v":-3.7,"c":"r"},{"i":107,"v":-4.1,"c":"r"},{"i":108,"v":-3.1,"c":"g"},{"i":109,"v":-2.9,"c":"g"},
      {"i":110,"v":-2.0,"c":"g"},{"i":111,"v":-0.5,"c":"g"},{"i":112,"v":0.4,"c":"g"},{"i":113,"v":0.9,"c":"g"},{"i":114,"v":1.6,"c":"g"},{"i":115,"v":2.5,"c":"g"},{"i":116,"v":1.8,"c":"r"},{"i":117,"v":1.6,"c":"r"},{"i":118,"v":2.0,"c":"g"},{"i":119,"v":3.1,"c":"g"},
      {"i":120,"v":3.15,"c":"g"},{"i":121,"v":3.4,"c":"g"},{"i":122,"v":2.8,"c":"r"},{"i":123,"v":1.6,"c":"r"},{"i":124,"v":0.05,"c":"r"},{"i":125,"v":-1.9,"c":"r"},{"i":126,"v":-1.6,"c":"g"},{"i":127,"v":-0.05,"c":"g"},{"i":128,"v":0.9,"c":"g"},{"i":129,"v":1.8,"c":"g"},
      {"i":130,"v":2.8,"c":"g"},{"i":131,"v":3.4,"c":"g"},{"i":132,"v":2.2,"c":"r"},{"i":133,"v":1.6,"c":"r"},{"i":134,"v":0.95,"c":"r"},{"i":135,"v":1.4,"c":"g"},{"i":136,"v":1.6,"c":"g"},{"i":137,"v":1.46782,"c":"r"}
    ],
    "gator": [
      {"i":0,"u":7.0,"uc":"g","l":-4.9,"lc":"g"},{"i":1,"u":7.05,"uc":"g","l":-4.95,"lc":"g"},{"i":2,"u":7.4,"uc":"g","l":-4.0,"lc":"r"},{"i":3,"u":7.45,"uc":"g","l":-2.5,"lc":"r"},{"i":4,"u":7.0,"uc":"r","l":-0.5,"lc":"r"},
      {"i":5,"u":6.0,"uc":"r","l":-1.3,"lc":"g"},{"i":6,"u":4.6,"uc":"r","l":-4.9,"lc":"g"},{"i":7,"u":2.65,"uc":"r","l":-9.4,"lc":"g"},{"i":8,"u":0.6,"uc":"r","l":-12.3,"lc":"g"},{"i":9,"u":4.1,"uc":"g","l":-14.7,"lc":"g"},
      {"i":10,"u":7.8,"uc":"g","l":-15.6,"lc":"g"},{"i":11,"u":10.3,"uc":"g","l":-15.65,"lc":"g"},{"i":12,"u":11.6,"uc":"g","l":-14.7,"lc":"r"},{"i":13,"u":11.65,"uc":"g","l":-14.2,"lc":"r"},{"i":14,"u":11.7,"uc":"g","l":-13.0,"lc":"r"},
      {"i":15,"u":13.9,"uc":"g","l":-9.9,"lc":"r"},{"i":16,"u":13.3,"uc":"r","l":-6.9,"lc":"r"},{"i":17,"u":12.5,"uc":"r","l":-3.9,"lc":"r"},{"i":18,"u":10.3,"uc":"r","l":-2.1,"lc":"r"},{"i":19,"u":8.0,"uc":"r","l":-1.65,"lc":"r"},
      {"i":20,"u":6.2,"uc":"r","l":-2.7,"lc":"g"},{"i":21,"u":5.3,"uc":"r","l":-2.0,"lc":"r"},{"i":22,"u":5.9,"uc":"g","l":-0.9,"lc":"r"},{"i":23,"u":5.5,"uc":"r","l":-0.1,"lc":"r"},{"i":24,"u":5.3,"uc":"r","l":-0.15,"lc":"g"},
      {"i":25,"u":3.8,"uc":"r","l":-0.1,"lc":"r"},{"i":26,"u":3.5,"uc":"r","l":-0.2,"lc":"g"},{"i":27,"u":3.1,"uc":"r","l":-0.45,"lc":"g"},{"i":28,"u":3.15,"uc":"g","l":-0.1,"lc":"r"},{"i":29,"u":3.2,"uc":"g","l":-0.2,"lc":"g"},
      {"i":30,"u":2.5,"uc":"r","l":-0.1,"lc":"r"},{"i":31,"u":2.3,"uc":"r","l":-0.05,"lc":"r"},{"i":32,"u":2.05,"uc":"r","l":-0.25,"lc":"g"},{"i":33,"u":1.9,"uc":"r","l":-0.45,"lc":"g"},{"i":34,"u":2.3,"uc":"g","l":-0.4,"lc":"r"},
      {"i":35,"u":2.35,"uc":"g","l":-0.45,"lc":"g"},{"i":36,"u":1.9,"uc":"r","l":-0.5,"lc":"g"},{"i":37,"u":1.85,"uc":"r","l":-0.1,"lc":"r"},{"i":38,"u":1.9,"uc":"g","l":-1.65,"lc":"g"},{"i":39,"u":1.6,"uc":"r","l":-3.1,"lc":"g"},
      {"i":40,"u":0.5,"uc":"r","l":-4.5,"lc":"g"},{"i":41,"u":1.3,"uc":"g","l":-4.9,"lc":"g"},{"i":42,"u":2.65,"uc":"g","l":-4.5,"lc":"r"},{"i":43,"u":3.5,"uc":"g","l":-4.1,"lc":"r"},{"i":44,"u":3.7,"uc":"g","l":-3.7,"lc":"r"},
      {"i":45,"u":3.5,"uc":"r","l":-3.1,"lc":"r"},{"i":46,"u":3.55,"uc":"g","l":-3.3,"lc":"g"},{"i":47,"u":3.5,"uc":"r","l":-3.1,"lc":"r"},{"i":48,"u":3.6,"uc":"g","l":-4.3,"lc":"g"},{"i":49,"u":3.7,"uc":"g","l":-5.8,"lc":"g"},
      {"i":50,"u":4.45,"uc":"g","l":-7.3,"lc":"g"},{"i":51,"u":5.9,"uc":"g","l":-8.1,"lc":"g"},{"i":52,"u":6.95,"uc":"g","l":-8.45,"lc":"g"},{"i":53,"u":8.0,"uc":"g","l":-8.4,"lc":"r"},{"i":54,"u":8.6,"uc":"g","l":-8.45,"lc":"g"},
      {"i":55,"u":9.1,"uc":"g","l":-8.5,"lc":"g"},{"i":56,"u":9.5,"uc":"g","l":-8.1,"lc":"r"},{"i":57,"u":9.8,"uc":"g","l":-7.3,"lc":"r"},{"i":58,"u":9.85,"uc":"g","l":-5.8,"lc":"r"},{"i":59,"u":9.45,"uc":"r","l":-5.5,"lc":"r"},
      {"i":60,"u":8.6,"uc":"r","l":-4.9,"lc":"r"},{"i":61,"u":8.3,"uc":"r","l":-3.3,"lc":"r"},{"i":62,"u":8.0,"uc":"r","l":-2.3,"lc":"r"},{"i":63,"u":6.95,"uc":"r","l":-2.35,"lc":"g"},{"i":64,"u":6.2,"uc":"r","l":-3.1,"lc":"g"},
      {"i":65,"u":5.9,"uc":"r","l":-3.15,"lc":"g"},{"i":66,"u":5.95,"uc":"g","l":-3.5,"lc":"g"},{"i":67,"u":6.25,"uc":"g","l":-4.9,"lc":"g"},{"i":68,"u":7.3,"uc":"g","l":-6.3,"lc":"g"},{"i":69,"u":8.0,"uc":"g","l":-5.3,"lc":"r"},
      {"i":70,"u":7.95,"uc":"r","l":-3.1,"lc":"r"},{"i":71,"u":7.9,"uc":"r","l":-2.3,"lc":"r"},{"i":72,"u":6.95,"uc":"r","l":-1.9,"lc":"r"},{"i":73,"u":5.9,"uc":"r","l":-0.95,"lc":"r"},{"i":74,"u":5.0,"uc":"r","l":-0.9,"lc":"r"},
      {"i":75,"u":4.45,"uc":"r","l":-1.9,"lc":"g"},{"i":76,"u":3.0,"uc":"r","l":-3.1,"lc":"g"},{"i":77,"u":1.6,"uc":"r","l":-2.75,"lc":"r"},{"i":78,"u":0.15,"uc":"r","l":-0.45,"lc":"r"},{"i":79,"u":0.25,"uc":"g","l":-0.5,"lc":"g"},
      {"i":80,"u":0.85,"uc":"g","l":-0.95,"lc":"g"},{"i":81,"u":1.9,"uc":"g","l":-1.55,"lc":"g"},{"i":82,"u":2.65,"uc":"g","l":-2.25,"lc":"g"},{"i":83,"u":3.0,"uc":"g","l":-1.9,"lc":"r"},{"i":84,"u":3.35,"uc":"g","l":-3.1,"lc":"g"},
      {"i":85,"u":3.3,"uc":"r","l":-3.3,"lc":"g"},{"i":86,"u":4.1,"uc":"g","l":-3.7,"lc":"g"},{"i":87,"u":4.2,"uc":"g","l":-4.1,"lc":"g"},{"i":88,"u":4.55,"uc":"g","l":-5.25,"lc":"g"},{"i":89,"u":4.8,"uc":"g","l":-6.1,"lc":"g"},
      {"i":90,"u":5.9,"uc":"g","l":-6.3,"lc":"g"},{"i":91,"u":6.6,"uc":"g","l":-5.8,"lc":"r"},{"i":92,"u":7.3,"uc":"g","l":-5.3,"lc":"r"},{"i":93,"u":7.35,"uc":"g","l":-3.3,"lc":"r"},{"i":94,"u":6.95,"uc":"r","l":-1.3,"lc":"r"},
      {"i":95,"u":5.9,"uc":"r","l":-1.35,"lc":"g"},{"i":96,"u":4.45,"uc":"r","l":-2.3,"lc":"g"},{"i":97,"u":1.9,"uc":"r","l":-0.9,"lc":"r"},{"i":98,"u":0.85,"uc":"r","l":-0.1,"lc":"r"},{"i":99,"u":0.8,"uc":"r","l":-0.1,"lc":"r"},
      {"i":100,"u":1.45,"uc":"g","l":-0.95,"lc":"g"},{"i":101,"u":1.9,"uc":"g","l":-1.65,"lc":"g"},{"i":102,"u":1.2,"uc":"r","l":-1.3,"lc":"r"},{"i":103,"u":0.5,"uc":"r","l":-0.9,"lc":"r"},{"i":104,"u":0.15,"uc":"r","l":-0.6,"lc":"r"},
      {"i":105,"u":0.25,"uc":"g","l":-0.95,"lc":"g"},{"i":106,"u":0.3,"uc":"g","l":-1.9,"lc":"g"},{"i":107,"u":0.1,"uc":"r","l":-2.75,"lc":"g"},{"i":108,"u":0.5,"uc":"g","l":-3.45,"lc":"g"},{"i":109,"u":1.2,"uc":"g","l":-4.15,"lc":"g"},
      {"i":110,"u":2.3,"uc":"g","l":-4.2,"lc":"g"},{"i":111,"u":3.0,"uc":"g","l":-3.45,"lc":"r"},{"i":112,"u":3.35,"uc":"g","l":-4.2,"lc":"g"},{"i":113,"u":3.3,"uc":"r","l":-4.55,"lc":"g"},{"i":114,"u":3.7,"uc":"g","l":-3.45,"lc":"r"},
      {"i":115,"u":4.1,"uc":"g","l":-2.0,"lc":"r"},{"i":116,"u":4.05,"uc":"r","l":-1.65,"lc":"r"},{"i":117,"u":3.0,"uc":"r","l":-1.6,"lc":"r"},{"i":118,"u":2.65,"uc":"r","l":-0.95,"lc":"r"},{"i":119,"u":2.3,"uc":"r","l":-1.3,"lc":"g"},
      {"i":120,"u":1.9,"uc":"r","l":-0.9,"lc":"r"},{"i":121,"u":2.3,"uc":"g","l":-0.85,"lc":"r"},{"i":122,"u":1.9,"uc":"r","l":-2.4,"lc":"g"},{"i":123,"u":0.85,"uc":"r","l":-2.0,"lc":"r"},{"i":124,"u":0.5,"uc":"r","l":-1.3,"lc":"r"},
      {"i":125,"u":0.85,"uc":"g","l":-0.45,"lc":"r"},{"i":126,"u":0.5,"uc":"r","l":-0.95,"lc":"g"},{"i":127,"u":0.15,"uc":"r","l":-0.45,"lc":"r"},{"i":128,"u":0.25,"uc":"g","l":-1.2,"lc":"g"},{"i":129,"u":0.15,"uc":"r","l":-1.15,"lc":"r"},
      {"i":130,"u":1.2,"uc":"g","l":-1.3,"lc":"g"},{"i":131,"u":1.25,"uc":"g","l":-2.75,"lc":"g"},{"i":132,"u":0.15,"uc":"r","l":-1.9,"lc":"r"},{"i":133,"u":1.2,"uc":"g","l":-1.65,"lc":"r"},{"i":134,"u":1.9,"uc":"g","l":-1.9,"lc":"g"},
      {"i":135,"u":1.6,"uc":"r","l":-3.1,"lc":"g"},{"i":136,"u":1.9,"uc":"g","l":-3.45,"lc":"g"},{"i":137,"u":2.3,"uc":"g","l":-2.75,"lc":"r"},{"i":138,"u":3.0,"uc":"g","l":-2.0,"lc":"r"},{"i":139,"u":2.65,"uc":"r","l":-3.45,"lc":"g"},
      {"i":140,"u":2.6,"uc":"r","l":-4.2981,"lc":"g"},{"i":141,"u":3.35,"uc":"g","l":null,"lc":null},{"i":142,"u":3.9924,"uc":"g","l":null,"lc":null}
    ]
  },
  "vconcat": [
    {
      "width": 1220,
      "height": 470,
      "layer": [
        {
          "data": {"name": "ticks"},
          "mark": {"type": "rule", "color": "#d3d3d3", "strokeWidth": 1, "strokeDash": [3, 3]},
          "encoding": {
            "y": {"field": "p", "type": "quantitative", "title": null, "scale": {"domain": [2875.88, 2956.88], "nice": false, "zero": false}, "axis": null}
          }
        },
        {
          "data": {"name": "ticks"},
          "mark": {"type": "text", "align": "left", "baseline": "middle", "dx": 6, "fontSize": 9.5, "font": "Liberation Sans", "color": "#000000"},
          "encoding": {
            "x": {"datum": 152.46, "type": "quantitative", "scale": {"domain": [-0.04, 152.46], "nice": false, "zero": false}, "axis": null},
            "y": {"field": "p", "type": "quantitative", "title": null, "scale": {"domain": [2875.88, 2956.88], "nice": false, "zero": false}, "axis": null},
            "text": {"field": "p", "type": "quantitative", "format": ".3f"}
          }
        },
        {
          "data": {"name": "ticks"},
          "mark": {"type": "tick", "orient": "horizontal", "color": "#000000", "thickness": 1, "size": 3, "xOffset": 1.5},
          "encoding": {
            "x": {"datum": 152.46, "type": "quantitative", "scale": {"domain": [-0.04, 152.46], "nice": false, "zero": false}, "axis": null},
            "y": {"field": "p", "type": "quantitative", "title": null, "scale": {"domain": [2875.88, 2956.88], "nice": false, "zero": false}, "axis": null}
          }
        },
        {
          "data": {"name": "last"},
          "mark": {"type": "rule", "color": "#b00000", "strokeWidth": 1},
          "encoding": {
            "y": {"field": "p", "type": "quantitative", "title": null, "scale": {"domain": [2875.88, 2956.88], "nice": false, "zero": false}, "axis": null}
          }
        },
        {
          "data": {"name": "candles"},
          "mark": {"type": "rule", "color": "#000000", "strokeWidth": 1},
          "encoding": {
            "x": {
              "field": "i", "type": "quantitative", "title": null,
              "scale": {"domain": [-0.04, 152.46], "nice": false, "zero": false},
              "axis": {"values": [0,4,8,12,16,20,24,28,32,36,40,44,48,52,56,60,64,68,72,76,80,84,88,92,96,100,104,108,112,116,120,124,128,132,136,140,144,148,152], "labels": false, "ticks": false, "domain": false, "grid": true, "gridDash": [3,3], "gridColor": "#d3d3d3", "title": null}
            },
            "y": {"field": "l", "type": "quantitative", "title": null, "scale": {"domain": [2875.88, 2956.88], "nice": false, "zero": false}, "axis": null},
            "y2": {"field": "h"}
          }
        },
        {
          "data": {"name": "candles"},
          "mark": {"type": "bar", "width": 4, "stroke": "#000000", "strokeWidth": 1},
          "encoding": {
            "x": {"field": "i", "type": "quantitative", "title": null, "scale": {"domain": [-0.04, 152.46], "nice": false, "zero": false}, "axis": null},
            "y": {"field": "o", "type": "quantitative", "title": null, "scale": {"domain": [2875.88, 2956.88], "nice": false, "zero": false}, "axis": null},
            "y2": {"field": "c"},
            "fill": {"condition": {"test": "datum.c >= datum.o", "value": "#ffffff"}, "value": "#000000"}
          }
        },
        {
          "data": {"name": "jaw"},
          "mark": {"type": "line", "color": "#0a50d8", "strokeWidth": 2, "interpolate": "monotone"},
          "encoding": {
            "x": {"field": "i", "type": "quantitative", "title": null, "scale": {"domain": [-0.04, 152.46], "nice": false, "zero": false}, "axis": null},
            "y": {"field": "v", "type": "quantitative", "title": null, "scale": {"domain": [2875.88, 2956.88], "nice": false, "zero": false}, "axis": null}
          }
        },
        {
          "data": {"name": "teeth"},
          "mark": {"type": "line", "color": "#ff0000", "strokeWidth": 2, "interpolate": "monotone"},
          "encoding": {
            "x": {"field": "i", "type": "quantitative", "title": null, "scale": {"domain": [-0.04, 152.46], "nice": false, "zero": false}, "axis": null},
            "y": {"field": "v", "type": "quantitative", "title": null, "scale": {"domain": [2875.88, 2956.88], "nice": false, "zero": false}, "axis": null}
          }
        },
        {
          "data": {"name": "lips"},
          "mark": {"type": "line", "color": "#00e600", "strokeWidth": 2, "interpolate": "monotone"},
          "encoding": {
            "x": {"field": "i", "type": "quantitative", "title": null, "scale": {"domain": [-0.04, 152.46], "nice": false, "zero": false}, "axis": null},
            "y": {"field": "v", "type": "quantitative", "title": null, "scale": {"domain": [2875.88, 2956.88], "nice": false, "zero": false}, "axis": null}
          }
        },
        {
          "data": {"name": "fractals"},
          "mark": {"type": "point", "filled": true, "size": 121, "fill": "#8c939c", "opacity": 1, "strokeWidth": 0, "clip": true},
          "encoding": {
            "x": {"field": "i", "type": "quantitative", "title": null, "scale": {"domain": [-0.04, 152.46], "nice": false, "zero": false}, "axis": null},
            "y": {"field": "p", "type": "quantitative", "title": null, "scale": {"domain": [2875.88, 2956.88], "nice": false, "zero": false}, "axis": null},
            "shape": {"condition": {"test": "datum.d === 'u'", "value": "M0,-2.7L0,-1.25L-0.8,-0.75Z"}, "value": "M0,2.4L0,0.95L-0.8,0.45Z"}
          }
        },
        {
          "data": {"name": "fractals"},
          "mark": {"type": "point", "filled": true, "size": 121, "fill": "#cfd3d8", "opacity": 1, "strokeWidth": 0, "clip": true},
          "encoding": {
            "x": {"field": "i", "type": "quantitative", "title": null, "scale": {"domain": [-0.04, 152.46], "nice": false, "zero": false}, "axis": null},
            "y": {"field": "p", "type": "quantitative", "title": null, "scale": {"domain": [2875.88, 2956.88], "nice": false, "zero": false}, "axis": null},
            "shape": {"condition": {"test": "datum.d === 'u'", "value": "M0,-2.7L0.8,-0.75L0,-1.25Z"}, "value": "M0,2.4L0.8,0.45L0,0.95Z"}
          }
        },
        {
          "data": {"name": "signal"},
          "mark": {"type": "point", "filled": true, "size": 361, "shape": "M0,-1L0.84,-0.12L0.38,-0.12L0.38,0.95L-0.38,0.95L-0.38,-0.12L-0.84,-0.12Z", "fill": "#ffffff", "stroke": "#6fcf3a", "strokeWidth": 2, "opacity": 1},
          "encoding": {
            "x": {"field": "i", "type": "quantitative", "title": null, "scale": {"domain": [-0.04, 152.46], "nice": false, "zero": false}, "axis": null},
            "y": {"field": "p", "type": "quantitative", "title": null, "scale": {"domain": [2875.88, 2956.88], "nice": false, "zero": false}, "axis": null}
          }
        },
        {
          "data": {"name": "last"},
          "mark": {"type": "point", "filled": true, "size": 400, "shape": "M-2.45,-0.48L2.45,-0.48L2.45,0.48L-2.45,0.48Z", "fill": "#cc0000", "opacity": 1, "strokeWidth": 0},
          "encoding": {
            "x": {"datum": 155.77, "type": "quantitative", "scale": {"domain": [-0.04, 152.46], "nice": false, "zero": false}, "axis": null},
            "y": {"field": "p", "type": "quantitative", "title": null, "scale": {"domain": [2875.88, 2956.88], "nice": false, "zero": false}, "axis": null}
          }
        },
        {
          "data": {"name": "last"},
          "mark": {"type": "text", "color": "#ffffff", "fontSize": 10.5, "font": "Liberation Sans", "align": "center", "baseline": "middle"},
          "encoding": {
            "x": {"datum": 155.77, "type": "quantitative", "scale": {"domain": [-0.04, 152.46], "nice": false, "zero": false}, "axis": null},
            "y": {"field": "p", "type": "quantitative", "title": null, "scale": {"domain": [2875.88, 2956.88], "nice": false, "zero": false}, "axis": null},
            "text": {"field": "p", "type": "quantitative", "format": ".3f"}
          }
        }
      ]
    },
    {
      "width": 1220,
      "height": 99,
      "title": {"text": "AOcust 9.5635", "anchor": "start", "frame": "group", "offset": -12, "dx": 4, "dy": 9, "baseline": "alphabetic", "fontSize": 9.5, "fontWeight": "normal", "font": "Liberation Sans", "color": "#000000"},
      "data": {"name": "ao"},
      "mark": {"type": "bar", "width": 4},
      "encoding": {
        "x": {
          "field": "i", "type": "quantitative", "title": null,
          "scale": {"domain": [-0.04, 152.46], "nice": false, "zero": false},
          "axis": {"values": [0,4,8,12,16,20,24,28,32,36,40,44,48,52,56,60,64,68,72,76,80,84,88,92,96,100,104,108,112,116,120,124,128,132,136,140,144,148,152], "labels": false, "ticks": false, "domain": false, "grid": true, "gridDash": [3,3], "gridColor": "#d3d3d3", "title": null}
        },
        "y": {
          "field": "v", "type": "quantitative", "stack": null, "title": null,
          "scale": {"domain": [-40.8864, 28.6434], "nice": false, "zero": false},
          "axis": {"orient": "right", "values": [-40.8864, 0, 28.6434], "labelExpr": "replace(format(datum.value, '.4f'), '\u2212', '-')", "labelFlush": true, "tickSize": 3, "labelPadding": 2, "domain": false, "grid": true, "gridDash": [3,3], "gridColor": "#d3d3d3", "gridOpacity": {"condition": {"test": "datum.value === 0", "value": 1}, "value": 0}, "title": null}
        },
        "y2": {"datum": 0},
        "color": {"condition": {"test": "datum.c === 'g'", "value": "#008000"}, "value": "#ff0000"}
      }
    },
    {
      "width": 1220,
      "height": 99,
      "title": {"text": "ACcust 1.46782", "anchor": "start", "frame": "group", "offset": -12, "dx": 4, "dy": 9, "baseline": "alphabetic", "fontSize": 9.5, "fontWeight": "normal", "font": "Liberation Sans", "color": "#000000"},
      "data": {"name": "ac"},
      "mark": {"type": "bar", "width": 4},
      "encoding": {
        "x": {
          "field": "i", "type": "quantitative", "title": null,
          "scale": {"domain": [-0.04, 152.46], "nice": false, "zero": false},
          "axis": {"values": [0,4,8,12,16,20,24,28,32,36,40,44,48,52,56,60,64,68,72,76,80,84,88,92,96,100,104,108,112,116,120,124,128,132,136,140,144,148,152], "labels": false, "ticks": false, "domain": false, "grid": true, "gridDash": [3,3], "gridColor": "#d3d3d3", "title": null}
        },
        "y": {
          "field": "v", "type": "quantitative", "stack": null, "title": null,
          "scale": {"domain": [-16.31684, 10.64508], "nice": false, "zero": false},
          "axis": {"orient": "right", "values": [-16.31684, 0, 10.64508], "labelExpr": "replace(format(datum.value, '.5f'), '\u2212', '-')", "labelFlush": true, "tickSize": 3, "labelPadding": 2, "domain": false, "grid": true, "gridDash": [3,3], "gridColor": "#d3d3d3", "gridOpacity": {"condition": {"test": "datum.value === 0", "value": 1}, "value": 0}, "title": null}
        },
        "y2": {"datum": 0},
        "color": {"condition": {"test": "datum.c === 'g'", "value": "#008000"}, "value": "#ff0000"}
      }
    },
    {
      "width": 1220,
      "height": 99,
      "title": {"text": "GatorCust 3.9924 -4.2981", "anchor": "start", "frame": "group", "offset": -12, "dx": 4, "dy": 9, "baseline": "alphabetic", "fontSize": 9.5, "fontWeight": "normal", "font": "Liberation Sans", "color": "#000000"},
      "data": {"name": "gator"},
      "encoding": {
        "x": {
          "field": "i", "type": "quantitative", "title": null,
          "scale": {"domain": [-0.04, 152.46], "nice": false, "zero": false},
          "axis": {
            "values": [0,4,8,12,16,20,24,28,32,36,40,44,48,52,56,60,64,68,72,76,80,84,88,92,96,100,104,108,112,116,120,124,128,132,136,140,144,148,152],
            "labelExpr": "datum.value % 8 === 0 && datum.value <= 136 ? ['14 Feb 2025','14 Feb 22:00','17 Feb 07:00','17 Feb 15:00','18 Feb 02:00','18 Feb 10:00','18 Feb 18:00','19 Feb 03:00','19 Feb 11:00','19 Feb 19:00','20 Feb 04:00','20 Feb 12:00','20 Feb 20:00','21 Feb 05:00','21 Feb 13:00','21 Feb 21:00','24 Feb 06:00','24 Feb 14:00'][datum.value / 8] : ''",
            "labelAlign": "left", "labelBaseline": "top", "labelPadding": 1, "labelFlush": false, "labelOverlap": false, "labelBound": false,
            "tickSize": 4, "tickOpacity": {"condition": {"test": "datum.value % 8 === 0 && datum.value <= 136", "value": 1}, "value": 0},
            "domain": false, "grid": true, "gridDash": [3,3], "gridColor": "#d3d3d3", "title": null
          }
        }
      },
      "layer": [
        {
          "mark": {"type": "bar", "width": 4},
          "encoding": {
            "y": {
              "field": "u", "type": "quantitative", "stack": null, "title": null,
              "scale": {"domain": [-18.8428, 16.9049], "nice": false, "zero": false},
              "axis": {"orient": "right", "values": [-18.8428, 0, 16.9049], "labelExpr": "replace(format(datum.value, '.4f'), '\u2212', '-')", "labelFlush": true, "tickSize": 3, "labelPadding": 2, "domain": false, "grid": true, "gridDash": [3,3], "gridColor": "#d3d3d3", "gridOpacity": {"condition": {"test": "datum.value === 0", "value": 1}, "value": 0}, "title": null}
            },
            "y2": {"datum": 0},
            "color": {"condition": {"test": "datum.uc === 'g'", "value": "#008000"}, "value": "#ff0000"}
          }
        },
        {
          "transform": [{"filter": "isValid(datum.l)"}],
          "mark": {"type": "bar", "width": 4},
          "encoding": {
            "y": {"field": "l", "type": "quantitative", "stack": null, "title": null, "scale": {"domain": [-18.8428, 16.9049], "nice": false, "zero": false}, "axis": null},
            "y2": {"datum": 0},
            "color": {"condition": {"test": "datum.lc === 'g'", "value": "#008000"}, "value": "#ff0000"}
          }
        }
      ]
    }
  ]
}
